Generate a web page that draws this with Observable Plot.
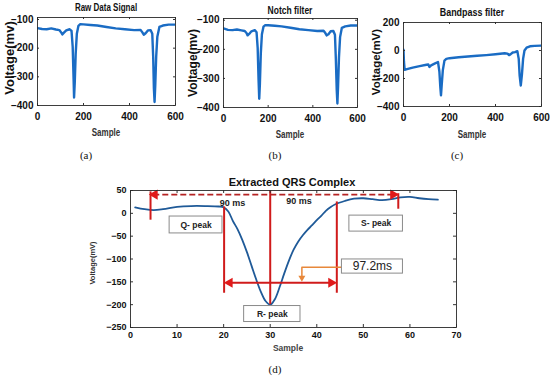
<!DOCTYPE html>
<html>
<head>
<meta charset="utf-8">
<script src="https://cdn.jsdelivr.net/npm/d3@7"></script>
<script src="https://cdn.jsdelivr.net/npm/@observablehq/plot@0.6"></script>
<style>
  body { margin: 0; background: #fff; }
  #fig { position: relative; width: 550px; height: 380px; overflow: hidden; background: #fff;
         font-family: "Liberation Sans", Arial, sans-serif; color: #111; }
  #fig svg { position: absolute; }
  .lbl { position: absolute; white-space: nowrap; line-height: 1; }
</style>
</head>
<body>
<div id="fig"></div>
<script>
// ---------- (a) Raw data signal ----------
const rawSample = [0, 20, 40, 60, 80, 95, 103, 108, 115, 125, 140, 148, 153, 157, 159, 162, 166, 171, 178, 186, 200, 230, 260, 300, 340, 380, 420, 448, 456, 462, 470, 480, 492, 499, 503, 506, 509, 512, 516, 521, 530, 545, 570, 600];
const rawVolt   = [-130, -133, -134, -131, -135, -137, -145, -152, -146, -138, -134, -140, -195, -310, -372, -320, -220, -150, -122, -116, -117, -119, -121, -126, -131, -134, -137, -136, -145, -153, -148, -138, -137, -150, -230, -340, -388, -330, -230, -160, -126, -121, -118, -118];

// ---------- (b) Notch filter ----------
const notchSample = [0, 20, 40, 60, 80, 95, 103, 108, 115, 125, 140, 148, 153, 157, 160, 163, 167, 172, 179, 187, 200, 230, 260, 300, 340, 380, 420, 448, 456, 462, 470, 480, 492, 499, 503, 507, 510, 513, 517, 522, 530, 545, 570, 600];
const notchVolt   = [-128, -133, -134, -132, -135, -137, -144, -152, -147, -138, -134, -141, -195, -305, -370, -318, -215, -148, -122, -117, -117, -119, -121, -126, -131, -134, -137, -136, -144, -152, -148, -138, -137, -150, -232, -340, -386, -328, -228, -158, -126, -121, -118, -118];

// ---------- (c) Bandpass filter ----------
const bpSample = [0, 2, 5, 15, 40, 70, 100, 108, 113, 120, 135, 150, 156, 160, 163, 166, 171, 178, 186, 200, 240, 280, 320, 360, 400, 440, 452, 459, 466, 475, 485, 495, 501, 505, 510, 515, 520, 526, 535, 550, 570, 600];
const bpVolt   = [5, -80, -138, -133, -122, -112, -102, -100, -118, -106, -94, -82, -150, -260, -320, -250, -140, -72, -60, -55, -48, -43, -38, -33, -27, -20, -22, -33, -26, -14, -12, -5, -60, -180, -250, -170, -60, 0, 20, 30, 33, 35];

// ---------- (d) Extracted QRS complex ----------
const qrsSample = [1, 3, 5, 7, 10, 13, 16, 19, 20, 21, 22, 23, 24, 25, 26, 27, 28, 29, 30, 31, 32, 33, 34, 35, 36, 37, 38, 39, 40, 41, 42, 43, 44, 46, 48, 50, 52, 54, 56, 58, 60, 62, 64, 66];
const qrsVolt   = [13, 9, 7, 9, 14, 16, 16, 15, 13, 4, -17, -35, -58, -85, -115, -145, -172, -192, -200, -188, -162, -132, -104, -80, -62, -48, -36, -26, -15, -5, 6, 14, 20, 27, 32, 33, 31, 29, 31, 35, 36, 33, 31, 30];

// annotation data (d)
const vLineX  = [4.3, 57.5, 20.1, 30, 44.3];
const vLineY1 = [47, 43, 14, 50, 25];
const vLineY2 = [-15, 9, -175, -200, -175];
const dashY = [41], dashX1 = [5], dashX2 = [56.5];
const spanY = [-152], spanX1 = [21], spanX2 = [43.3];
const headX = [5.2, 56.4, 21.3, 43.1];
const headY = [41, 41, -152, -152];
const headRot = [-90, 90, -90, 90];
const orangeX = [45.4, 36.8, 36.8];
const orangeY = [-118, -118, -140];
const orangeHeadX = [36.8], orangeHeadY = [-141];
const msText = ["90 ms", "90 ms"], msX = [21.9, 36.2], msY = [23, 26];
const boxLabel = ["Q- peak", "S- peak", "R- peak"];
const boxX1 = [8.4, 47.0, 24.4], boxX2 = [19.75, 58.5, 36.5];
const boxY1 = [-7, -5, -203], boxY2 = [-44, -40, -238];
const noteLabel = ["97.2ms"], noteX1 = [45.4], noteX2 = [58.5], noteY1 = [-101], noteY2 = [-132];

const topXTicks = [0, 200, 400, 600];
const rawYTicks = [-400, -300, -200, -100];
const bpYTicks = [-400, -200, 0, 200];
const qrsXTicks = [0, 10, 20, 30, 40, 50, 60, 70];
const qrsYTicks = [-250, -200, -150, -100, -50, 0, 50];

const fig = document.getElementById("fig");
const FONT = "Liberation Sans, Arial, sans-serif";

function innerTicks(xt, yt, len, pw, ph, color) {
  return [
    Plot.tickX(xt, {x: d => d, insetTop: ph - len, stroke: color}),
    Plot.tickX(xt, {x: d => d, insetBottom: ph - len, stroke: color}),
    Plot.tickY(yt, {y: d => d, insetRight: pw - len, stroke: color}),
    Plot.tickY(yt, {y: d => d, insetLeft: pw - len, stroke: color})
  ];
}

function panel(o) {
  const pw = o.width - o.mLeft - o.mRight, ph = o.height - o.mTop - o.mBottom;
  const svg = Plot.plot({
    width: o.width, height: o.height,
    marginLeft: o.mLeft, marginRight: o.mRight, marginTop: o.mTop, marginBottom: o.mBottom,
    x: {domain: o.xDomain}, y: {domain: o.yDomain},
    style: {fontFamily: FONT, fontSize: o.fontSize + "px", color: "#111", background: "transparent", overflow: "visible"},
    marks: [
      ...o.marks,
      ...innerTicks(o.xTicks, o.yTicks, o.tickLen, pw, ph, "#333"),
      Plot.frame({stroke: "#2a2a2a", strokeWidth: 0.9}),
      Plot.axisX(o.xTicks, {tickSize: 0, tickPadding: o.xPad, fontWeight: o.fontWeight, label: null}),
      Plot.axisY(o.yTicks, {tickSize: 0, tickPadding: o.yPad, fontWeight: o.fontWeight, label: null})
    ]
  });
  svg.style.left = o.left + "px";
  svg.style.top = o.top + "px";
  fig.appendChild(svg);
}

const topBlue = "#1a6cc4";

panel({left: 0, top: 0, width: 185, height: 150, mLeft: 37, mRight: 10, mTop: 17, mBottom: 45,
  xDomain: [0, 600], yDomain: [-400, -93], xTicks: topXTicks, yTicks: rawYTicks,
  fontSize: 10, fontWeight: 600, xPad: 7, yPad: 4, tickLen: 2,
  marks: [Plot.line(rawVolt, {x: rawSample, y: rawVolt, stroke: topBlue, strokeWidth: 2.4, clip: true})]});

panel({left: 185, top: 0, width: 185, height: 150, mLeft: 38, mRight: 13, mTop: 18, mBottom: 43,
  xDomain: [0, 600], yDomain: [-400, -94], xTicks: topXTicks, yTicks: rawYTicks,
  fontSize: 10, fontWeight: 600, xPad: 7, yPad: 4, tickLen: 2,
  marks: [Plot.line(notchVolt, {x: notchSample, y: notchVolt, stroke: topBlue, strokeWidth: 2.4, clip: true})]});

panel({left: 370, top: 0, width: 180, height: 150, mLeft: 33, mRight: 9, mTop: 22, mBottom: 44,
  xDomain: [0, 600], yDomain: [-400, 200], xTicks: topXTicks, yTicks: bpYTicks,
  fontSize: 10, fontWeight: 600, xPad: 7, yPad: 4, tickLen: 2,
  marks: [Plot.line(bpVolt, {x: bpSample, y: bpVolt, stroke: topBlue, strokeWidth: 2.4, clip: true})]});

const red = "#d01b1b";
panel({left: 80, top: 172, width: 400, height: 190, mLeft: 50, mRight: 24, mTop: 18, mBottom: 35,
  xDomain: [0, 70], yDomain: [-250, 50], xTicks: qrsXTicks, yTicks: qrsYTicks,
  fontSize: 9, fontWeight: "bold", xPad: 4, yPad: 4, tickLen: 3,
  marks: [
    Plot.line(qrsVolt, {x: qrsSample, y: qrsVolt, curve: "catmull-rom", stroke: "#1f5a98", strokeWidth: 1.8}),
    Plot.ruleX(vLineX, {x: vLineX, y1: vLineY1, y2: vLineY2, stroke: red, strokeWidth: 2}),
    Plot.ruleY(dashY, {y: dashY, x1: dashX1, x2: dashX2, stroke: "#b52323", strokeWidth: 1.6, strokeDasharray: "6,3"}),
    Plot.ruleY(spanY, {y: spanY, x1: spanX1, x2: spanX2, stroke: red, strokeWidth: 1.8}),
    Plot.dot(headX, {x: headX, y: headY, rotate: headRot, symbol: "triangle", r: 3.8, fill: "#e01a1a", stroke: null}),
    Plot.line(orangeX, {x: orangeX, y: orangeY, stroke: "#e8883a", strokeWidth: 1.5, curve: "linear"}),
    Plot.dot(orangeHeadX, {x: orangeHeadX, y: orangeHeadY, rotate: 180, symbol: "triangle", r: 2.6, fill: "#e8883a", stroke: null}),
    Plot.text(msText, {x: msX, y: msY, text: msText, fontWeight: "bold", fontSize: 9, fill: "#222"}),
    Plot.rect(boxLabel, {x1: boxX1, x2: boxX2, y1: boxY1, y2: boxY2, fill: "#fff", stroke: "#8a8a8a", strokeWidth: 1}),
    Plot.text(boxLabel, {x: boxLabel.map((_, i) => (boxX1[i] + boxX2[i]) / 2), y: boxLabel.map((_, i) => (boxY1[i] + boxY2[i]) / 2), text: boxLabel, fontWeight: "bold", fontSize: 8.5, fill: "#222"}),
    Plot.rect(noteLabel, {x1: noteX1, x2: noteX2, y1: noteY1, y2: noteY2, fill: "#fff", stroke: "#8a8a8a", strokeWidth: 1}),
    Plot.text(noteLabel, {x: [(noteX1[0] + noteX2[0]) / 2], y: [(noteY1[0] + noteY2[0]) / 2], text: noteLabel, fontSize: 12, fill: "#222"})
  ]});

// ---------- titles, axis labels, captions ----------
const labels = [
  {t: "Raw Data Signal", x: 106, y: 8, s: 10, w: "bold", sx: 0.8},
  {t: "Notch filter", x: 290, y: 11, s: 10, w: "bold", sx: 0.85},
  {t: "Bandpass filter", x: 472, y: 12, s: 10.5, w: "bold", sx: 0.85},
  {t: "Sample", x: 106, y: 133, s: 10, w: "bold", sx: 0.8, c: "#333"},
  {t: "Sample", x: 290, y: 135, s: 10, w: "bold", sx: 0.8, c: "#333"},
  {t: "Sample", x: 472, y: 135, s: 10, w: "bold", sx: 0.8, c: "#333"},
  {t: "Voltage(mv)", x: 8.5, y: 58, s: 13, w: "bold", rot: true},
  {t: "Voltage(mv)", x: 193, y: 63, s: 12, w: "bold", rot: true},
  {t: "Voltage(mV)", x: 377, y: 62, s: 11.5, w: "bold", rot: true},
  {t: "Extracted QRS Complex", x: 292, y: 182, s: 11, w: "bold"},
  {t: "Sample", x: 288, y: 348, s: 8.5, w: "bold", c: "#444"},
  {t: "Voltage(mV)", x: 93, y: 263, s: 7.5, w: "bold", rot: true, c: "#333"},
  {t: "(a)", x: 86, y: 155, s: 11, w: "normal", serif: true},
  {t: "(b)", x: 275, y: 155, s: 11, w: "normal", serif: true},
  {t: "(c)", x: 457, y: 155, s: 11, w: "normal", serif: true},
  {t: "(d)", x: 275, y: 369, s: 11, w: "normal", serif: true}
];
for (const l of labels) {
  const d = document.createElement("div");
  d.className = "lbl";
  d.textContent = l.t;
  d.style.left = l.x + "px";
  d.style.top = l.y + "px";
  d.style.fontSize = l.s + "px";
  d.style.fontWeight = l.w;
  d.style.color = l.c || "#111";
  if (l.serif) d.style.fontFamily = "'Liberation Serif', 'DejaVu Serif', serif";
  d.style.transform = "translate(-50%,-50%)" + (l.rot ? " rotate(-90deg)" : "") + (l.sx ? ` scaleX(${l.sx})` : "");
  fig.appendChild(d);
}
</script>
</body>
</html>
